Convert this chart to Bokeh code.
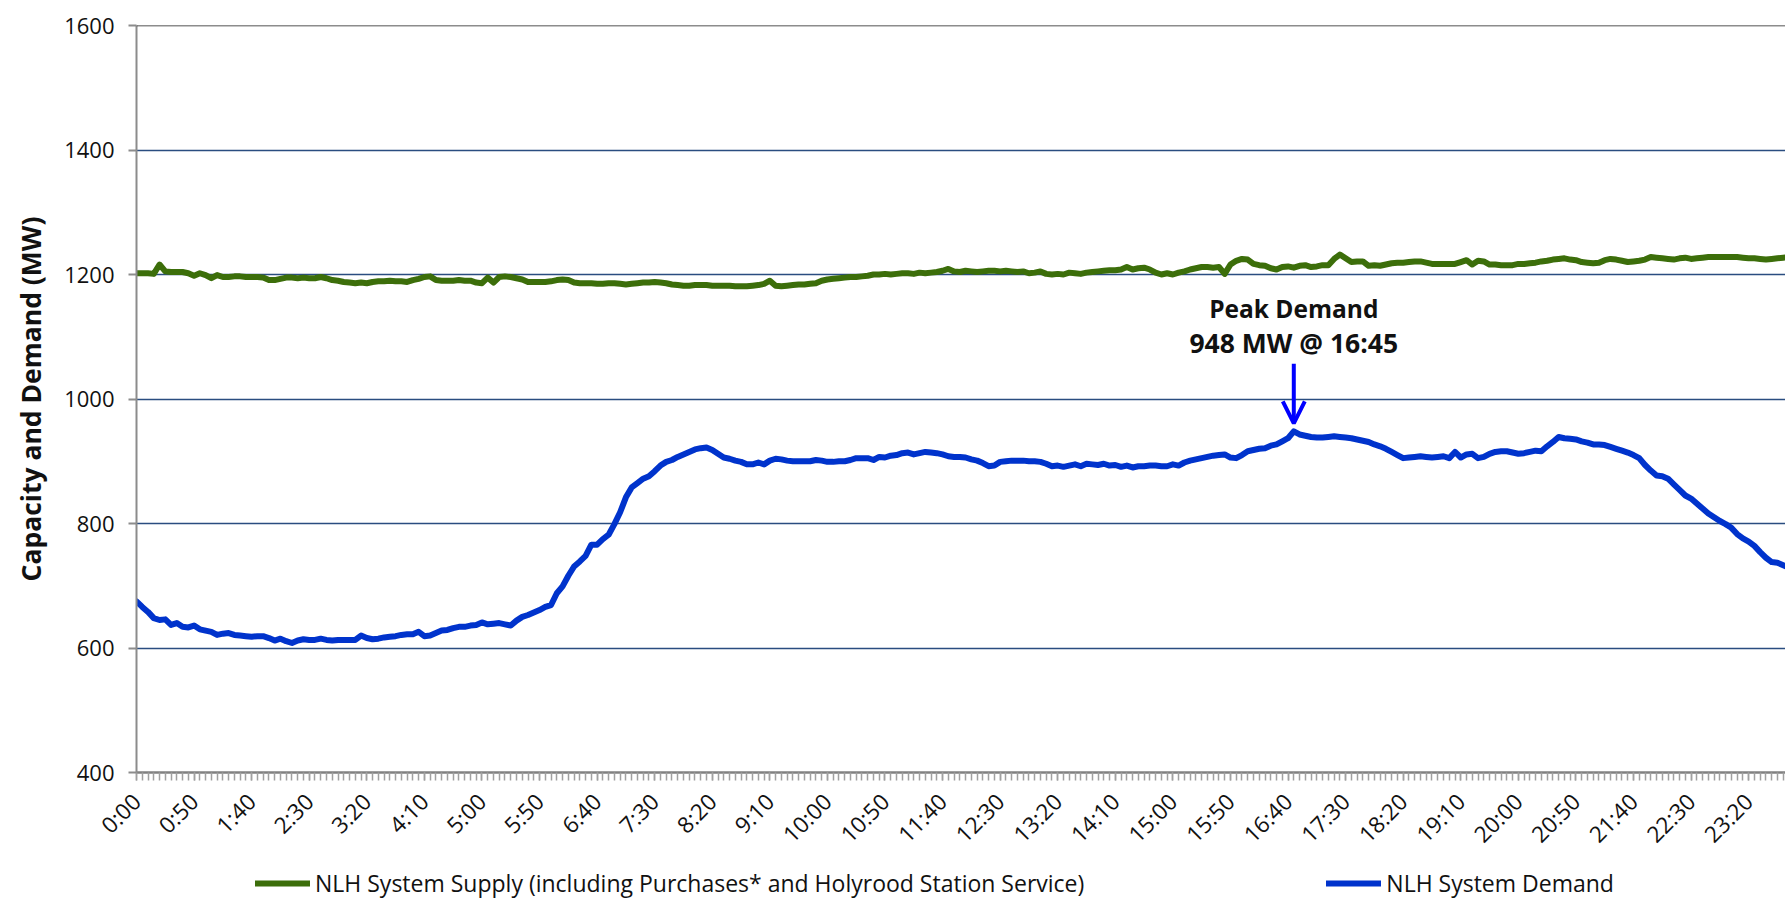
import numpy as np
from bokeh.plotting import figure
from bokeh.layouts import column
from bokeh.models import (Range1d, FixedTicker, Legend, LegendItem, Arrow,
                          OpenHead, Span)
from bokeh.core.properties import value
from bokeh.embed import file_html
from bokeh.resources import INLINE

FONT = "Open Sans"

# sample times (minutes after midnight, every 5 minutes)
minutes = list(range(0, 1440, 5))

# NLH System Supply (MW), one row per hour
supply = [
    1202, 1202, 1202, 1201, 1216, 1205, 1204, 1204, 1204, 1202, 1198, 1202,
    1199, 1194, 1199, 1196, 1196, 1197, 1197, 1196, 1196, 1196, 1195, 1191,
    1191, 1193, 1195, 1195, 1194, 1195, 1194, 1194, 1196, 1194, 1191, 1190,
    1188, 1187, 1186, 1187, 1186, 1188, 1189, 1189, 1190, 1189, 1189, 1188,
    1191, 1193, 1196, 1197, 1191, 1190, 1190, 1190, 1191, 1190, 1190, 1187,
    1186, 1195, 1187, 1196, 1197, 1196, 1194, 1192, 1188, 1188, 1188, 1188,
    1189, 1191, 1192, 1191, 1187, 1186, 1186, 1186, 1185, 1185, 1186, 1186,
    1185, 1184, 1185, 1186, 1187, 1187, 1188, 1187, 1186, 1184, 1183, 1182,
    1182, 1183, 1183, 1183, 1182, 1182, 1182, 1182, 1181, 1181, 1181, 1182,
    1183, 1185, 1190, 1182, 1181, 1182, 1183, 1184, 1184, 1185, 1186, 1190,
    1192, 1193, 1194, 1195, 1196, 1196, 1197, 1198, 1200, 1200, 1201, 1200,
    1201, 1202, 1202, 1201, 1203, 1202, 1203, 1204, 1206, 1209, 1205, 1204,
    1206, 1205, 1204, 1205, 1206, 1206, 1205, 1206, 1205, 1204, 1205, 1202,
    1203, 1205, 1201, 1200, 1201, 1200, 1203, 1202, 1201, 1203, 1204, 1205,
    1206, 1207, 1207, 1208, 1212, 1208, 1210, 1211, 1208, 1203, 1200, 1202,
    1200, 1203, 1205, 1208, 1210, 1212, 1212, 1211, 1212, 1201, 1216, 1222,
    1225, 1224, 1217, 1215, 1214, 1210, 1208, 1212, 1213, 1211, 1214, 1215,
    1212, 1213, 1215, 1215, 1225, 1232, 1226, 1220, 1221, 1221, 1214, 1215,
    1214, 1216, 1218, 1219, 1219, 1220, 1221, 1221, 1219, 1217, 1217, 1217,
    1217, 1217, 1220, 1223, 1216, 1222, 1221, 1216, 1216, 1215, 1215, 1215,
    1217, 1217, 1218, 1219, 1221, 1222, 1224, 1225, 1226, 1224, 1223, 1220,
    1219, 1218, 1219, 1223, 1225, 1224, 1222, 1220, 1221, 1222, 1224, 1228,
    1227, 1226, 1225, 1224, 1226, 1227, 1225, 1226, 1227, 1228, 1228, 1228,
    1228, 1228, 1228, 1227, 1226, 1226, 1225, 1224, 1225, 1226, 1227, 1228,
]

# NLH System Demand (MW), one row per hour
demand = [
    675, 666, 658, 648, 645, 646, 637, 640, 634, 633, 636, 630,
    628, 626, 621, 623, 624, 621, 620, 619, 618, 619, 619, 616,
    612, 615, 611, 608, 612, 614, 613, 613, 615, 613, 612, 613,
    613, 613, 613, 620, 616, 614, 615, 617, 618, 619, 621, 622,
    622, 626, 619, 620, 624, 628, 629, 632, 634, 634, 636, 637,
    641, 638, 639, 640, 638, 636, 644, 650, 653, 657, 661, 666,
    669, 688, 699, 716, 731, 739, 748, 766, 766, 775, 782, 799,
    818, 842, 858, 865, 872, 876, 884, 893, 899, 902, 907, 911,
    915, 919, 921, 922, 918, 912, 906, 904, 901, 899, 895, 895,
    898, 895, 901, 904, 903, 901, 900, 900, 900, 900, 902, 901,
    899, 899, 900, 900, 902, 905, 905, 905, 902, 907, 906, 909,
    910, 913, 914, 911, 913, 915, 914, 913, 911, 908, 907, 907,
    906, 903, 901, 897, 892, 893, 899, 900, 901, 901, 901, 900,
    900, 899, 896, 892, 893, 891, 893, 895, 892, 896, 895, 894,
    896, 893, 894, 891, 893, 890, 892, 892, 893, 893, 892, 892,
    895, 893, 898, 901, 903, 905, 907, 909, 910, 911, 906, 905,
    910, 916, 918, 920, 921, 925, 927, 932, 937, 948, 943, 941,
    939, 938, 938, 939, 940, 939, 938, 937, 935, 933, 931, 927,
    924, 920, 915, 910, 905, 906, 907, 908, 907, 906, 907, 908,
    905, 915, 906, 911, 912, 905, 907, 912, 915, 916, 916, 914,
    912, 913, 915, 917, 916, 924, 931, 939, 937, 936, 935, 932,
    930, 927, 927, 926, 923, 920, 917, 914, 910, 905, 894, 885,
    877, 876, 872, 863, 854, 845, 840, 832, 824, 816, 810, 804,
    799, 793, 783, 776, 771, 764, 754, 745, 738, 737, 733, 729,
]

y_ticks = [400, 600, 800, 1000, 1200, 1400, 1600]
x_tick_labels = ["0:00", "0:50", "1:40", "2:30", "3:20", "4:10", "5:00",
                 "5:50", "6:40", "7:30", "8:20", "9:10", "10:00", "10:50",
                 "11:40", "12:30", "13:20", "14:10", "15:00", "15:50",
                 "16:40", "17:30", "18:20", "19:10", "20:00", "20:50",
                 "21:40", "22:30", "23:20"]
x_ticks = [int(s.split(":")[0]) * 60 + int(s.split(":")[1]) for s in x_tick_labels]

supply_label = "NLH System Supply (including Purchases* and Holyrood Station Service)"
demand_label = "NLH System Demand"

GREEN = "#3C6E0A"
BLUE = "#0033CC"
ARROW = "#0000FF"
LW = 6

W = 1785
H_MAIN, H_LEG = 862, 38
BL, BT = 136, 25
frame_h = 752
BB = H_MAIN - BT - frame_h
x_end = 1432

p = figure(width=W, height=H_MAIN, output_backend="svg", toolbar_location=None,
           x_range=Range1d(0, x_end), y_range=Range1d(y_ticks[0], y_ticks[-1]),
           min_border_left=BL, min_border_right=0, min_border_top=BT,
           min_border_bottom=BB)
p.outline_line_color = None
p.background_fill_color = "white"
p.border_fill_color = "white"

p.xgrid.grid_line_color = None
p.ygrid.ticker = FixedTicker(ticks=y_ticks)
p.ygrid.grid_line_color = "#2A4D80"
p.ygrid.grid_line_width = 1.5
p.add_layout(Span(location=y_ticks[-1], dimension="width",
                  line_color="#1a1a1a", line_width=1.5))

p.line(minutes, supply, line_color=GREEN, line_width=LW,
       line_join="round", line_cap="round")
p.line(minutes, demand, line_color=BLUE, line_width=LW,
       line_join="round", line_cap="round")

# y axis
ya = p.yaxis[0]
ya.ticker = FixedTicker(ticks=y_ticks)
ya.axis_line_color = "#8C8C8C"
ya.axis_line_width = 2
ya.major_tick_line_color = "#8C8C8C"
ya.major_tick_line_width = 2
ya.major_tick_out = 8
ya.major_tick_in = 0
ya.minor_tick_line_color = None
ya.major_label_text_font = FONT
ya.major_label_text_font_size = "22px"
ya.major_label_text_color = "#111111"
ya.major_label_standoff = 14
ya.axis_label = "Capacity and Demand (MW)"
ya.axis_label_text_font = FONT
ya.axis_label_text_font_style = "bold"
ya.axis_label_text_font_size = "26.5px"
ya.axis_label_text_color = "#111111"
ya.axis_label_standoff = 12

# x axis
xa = p.xaxis[0]
xa.ticker = FixedTicker(ticks=x_ticks, minor_ticks=minutes)
xa.major_label_overrides = {t: s for t, s in zip(x_ticks, x_tick_labels)}
xa.major_label_orientation = np.pi / 4
xa.axis_line_color = "#808080"
xa.axis_line_width = 2.5
xa.major_tick_line_color = "#A0A0A0"
xa.major_tick_line_width = 1.5
xa.minor_tick_line_color = "#A0A0A0"
xa.minor_tick_line_width = 1.5
xa.major_tick_out = 8
xa.major_tick_in = 0
xa.minor_tick_out = 8
xa.minor_tick_in = 0
xa.major_label_text_font = FONT
xa.major_label_text_font_size = "22.5px"
xa.major_label_text_color = "#111111"
xa.major_label_standoff = 17

# peak annotation, derived from the demand series
i_pk = int(np.argmax(demand))
pk_x, pk_y = minutes[i_pk], demand[i_pk]
pk_time = f"{pk_x // 60}:{pk_x % 60:02d}"
mw_per_px = (y_ticks[-1] - y_ticks[0]) / frame_h

p.text(x=[pk_x], y=[pk_y], text=["Peak Demand"], y_offset=-123,
       text_align="center", text_baseline="alphabetic",
       text_font=value(FONT), text_font_style="bold",
       text_font_size="24.5px", text_color="#111111")
p.text(x=[pk_x], y=[pk_y], text=[f"{pk_y} MW @ {pk_time}"], y_offset=-88,
       text_align="center", text_baseline="alphabetic",
       text_font=value(FONT), text_font_style="bold",
       text_font_size="26.5px", text_color="#111111")
p.add_layout(Arrow(end=OpenHead(size=22, line_width=4, line_color=ARROW),
                   x_start=pk_x, y_start=pk_y + 68 * mw_per_px,
                   x_end=pk_x, y_end=pk_y + 8 * mw_per_px,
                   line_color=ARROW, line_width=4))

# legend strip below the chart (its frame is aligned with the chart frame)
pl = figure(width=W, height=H_LEG, output_backend="svg", toolbar_location=None,
            x_axis_type=None, y_axis_type=None,
            x_range=Range1d(-2, -1), y_range=Range1d(-2, -1),
            min_border=0)
pl.outline_line_color = None
pl.grid.grid_line_color = None
l_sup = pl.line(minutes, supply, line_color=GREEN, line_width=LW, line_cap="round")
l_dem = pl.line(minutes, demand, line_color=BLUE, line_width=LW, line_cap="round")
legend = Legend(items=[LegendItem(label=supply_label, renderers=[l_sup]),
                       LegendItem(label=demand_label, renderers=[l_dem])],
                orientation="horizontal", location=(255 - BL, 1),
                margin=0, padding=0, spacing=242,
                glyph_width=55, glyph_height=24, label_height=24,
                label_standoff=5,
                border_line_color=None, background_fill_alpha=0,
                label_text_font=FONT, label_text_font_size="23px",
                label_text_color="#111111")
pl.add_layout(legend, "center")

layout = column(p, pl, spacing=0)
open("out.html", "w").write(file_html(layout, INLINE))
